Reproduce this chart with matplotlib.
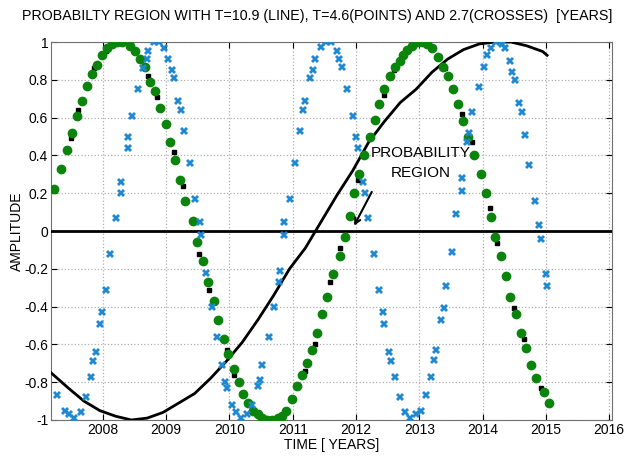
import numpy as np
import matplotlib
matplotlib.use('Agg')
import matplotlib.pyplot as plt

# T = 10.9 yr line
line_t = [2007.18, 2007.45, 2007.7, 2007.95, 2008.2, 2008.45, 2008.7, 2008.95, 2009.2, 2009.45,
          2009.7, 2009.95, 2010.2, 2010.45, 2010.7, 2010.95, 2011.2, 2011.45, 2011.7, 2011.95,
          2012.2, 2012.45, 2012.7, 2012.95, 2013.2, 2013.45, 2013.7, 2013.95, 2014.2, 2014.45,
          2014.7, 2014.95, 2015.02]
line_y = [-0.75, -0.83, -0.90, -0.95, -0.98, -1.0, -0.99, -0.96, -0.91, -0.86,
          -0.78, -0.69, -0.59, -0.47, -0.34, -0.20, -0.09, 0.05, 0.19, 0.32,
          0.47, 0.58, 0.68, 0.75, 0.84, 0.91, 0.96, 0.99, 1.0, 1.0,
          0.98, 0.95, 0.93]

# T = 4.6 yr points (green)
pts_t = [2007.23, 2007.33, 2007.43, 2007.51, 2007.59, 2007.67, 2007.75, 2007.83, 2007.90, 2007.98,
         2008.06, 2008.14, 2008.22, 2008.30, 2008.43, 2008.51, 2008.59, 2008.67, 2008.75, 2008.83,
         2008.91, 2008.99, 2009.06, 2009.14, 2009.22, 2009.30, 2009.42, 2009.49, 2009.58, 2009.66,
         2009.75, 2009.82, 2009.91, 2009.98, 2010.07, 2010.15, 2010.22, 2010.30, 2010.38, 2010.45,
         2010.52, 2010.60, 2010.68, 2010.76, 2010.83, 2010.90, 2010.99, 2011.07, 2011.15, 2011.23,
         2011.31, 2011.38, 2011.46, 2011.54, 2011.63, 2011.74, 2011.82, 2011.90, 2011.97, 2012.05,
         2012.13, 2012.22, 2012.30, 2012.37, 2012.45, 2012.53, 2012.61, 2012.69, 2012.75, 2012.81,
         2012.89, 2012.97, 2013.05, 2013.13, 2013.20, 2013.30, 2013.38, 2013.45, 2013.54, 2013.61,
         2013.69, 2013.77, 2013.86, 2013.97, 2014.05, 2014.14, 2014.20, 2014.29, 2014.37, 2014.44,
         2014.53, 2014.61, 2014.69, 2014.77, 2014.85, 2014.97, 2015.05]
pts_y = [0.22, 0.33, 0.43, 0.52, 0.61, 0.69, 0.77, 0.83, 0.88, 0.93,
         0.97, 0.99, 1.0, 1.0, 0.98, 0.95, 0.91, 0.87, 0.79, 0.74,
         0.65, 0.565, 0.47, 0.375, 0.27, 0.16, 0.055, -0.057, -0.16, -0.27,
         -0.37, -0.47, -0.57, -0.65, -0.73, -0.80, -0.86, -0.91, -0.95, -0.97,
         -0.99, -1.0, -1.0, -0.99, -0.98, -0.95, -0.89, -0.82, -0.76, -0.70,
         -0.63, -0.54, -0.44, -0.35, -0.23, -0.13, -0.03, 0.08, 0.20, 0.30,
         0.40, 0.50, 0.59, 0.67, 0.75, 0.82, 0.87, 0.90, 0.93, 0.96,
         0.98, 1.0, 1.0, 0.99, 0.97, 0.92, 0.87, 0.82, 0.75, 0.67,
         0.58, 0.50, 0.40, 0.30, 0.20, 0.076, -0.03, -0.13, -0.24, -0.35,
         -0.44, -0.54, -0.62, -0.71, -0.78, -0.85, -0.91]

# black squares peeking out under the green points
obs_t = [2007.49, 2007.61, 2007.86, 2008.05, 2008.72, 2008.85, 2009.13, 2009.26, 2009.52, 2009.68,
         2009.96, 2010.07, 2011.19, 2011.35, 2011.59, 2011.75, 2012.03, 2012.44, 2012.60, 2013.40,
         2013.68, 2013.84, 2014.12, 2014.23, 2014.50, 2014.66, 2014.92]
obs_y = [0.49, 0.64, 0.86, 0.95, 0.82, 0.71, 0.42, 0.24, -0.12, -0.31,
         -0.63, -0.76, -0.74, -0.60, -0.27, -0.09, 0.27, 0.72, 0.85, 0.86,
         0.62, 0.47, 0.12, -0.065, -0.41, -0.57, -0.83]

# T = 2.7 yr crosses (blue)
crs_t = [2007.27, 2007.40, 2007.47, 2007.54, 2007.65, 2007.73, 2007.81, 2007.85, 2007.89, 2007.96,
         2007.99, 2008.05, 2008.12, 2008.21, 2008.28, 2008.29, 2008.39, 2008.40, 2008.46, 2008.55,
         2008.64, 2008.69, 2008.72, 2008.80, 2008.88, 2008.96, 2009.03, 2009.10, 2009.13, 2009.19,
         2009.24, 2009.28, 2009.38, 2009.46, 2009.53, 2009.55, 2009.63, 2009.72, 2009.80, 2009.88,
         2009.93, 2009.96, 2010.04, 2010.10, 2010.19, 2010.27, 2010.36, 2010.45, 2010.48, 2010.51,
         2010.63, 2010.71, 2010.78, 2010.80, 2010.86, 2010.87, 2010.96, 2011.04, 2011.12, 2011.16,
         2011.20, 2011.28, 2011.32, 2011.36, 2011.44, 2011.52, 2011.60, 2011.70, 2011.73, 2011.78,
         2011.86, 2011.95, 2012.00, 2012.03, 2012.11, 2012.14, 2012.19, 2012.28, 2012.36, 2012.42,
         2012.44, 2012.52, 2012.55, 2012.62, 2012.69, 2012.78, 2012.86, 2012.95, 2013.03, 2013.11,
         2013.19, 2013.23, 2013.27, 2013.35, 2013.39, 2013.43, 2013.51, 2013.58, 2013.67, 2013.68,
         2013.75, 2013.78, 2013.84, 2013.95, 2014.02, 2014.07, 2014.13, 2014.21, 2014.30, 2014.35,
         2014.43, 2014.47, 2014.51, 2014.58, 2014.63, 2014.67, 2014.74, 2014.83, 2014.90, 2014.93,
         2015.00, 2015.02]
crs_y = [-0.87, -0.95, -0.97, -0.99, -0.96, -0.88, -0.77, -0.69, -0.64, -0.49,
         -0.43, -0.31, -0.12, 0.07, 0.20, 0.26, 0.44, 0.50, 0.61, 0.75,
         0.86, 0.91, 0.95, 1.0, 1.0, 0.97, 0.91, 0.85, 0.81, 0.69,
         0.64, 0.53, 0.36, 0.17, 0.05, -0.02, -0.22, -0.40, -0.56, -0.71,
         -0.80, -0.83, -0.92, -0.96, -0.99, -0.97, -0.92, -0.82, -0.79, -0.71,
         -0.56, -0.40, -0.27, -0.21, 0.05, -0.02, 0.17, 0.36, 0.53, 0.64,
         0.69, 0.81, 0.85, 0.91, 0.975, 1.0, 1.0, 0.95, 0.91, 0.87,
         0.75, 0.61, 0.50, 0.44, 0.26, 0.20, 0.07, -0.12, -0.31, -0.43,
         -0.49, -0.64, -0.69, -0.77, -0.88, -0.96, -0.99, -0.97, -0.95, -0.87,
         -0.77, -0.68, -0.63, -0.47, -0.41, -0.29, -0.11, 0.09, 0.21, 0.28,
         0.47, 0.52, 0.63, 0.76, 0.87, 0.93, 0.97, 1.0, 0.99, 0.97,
         0.90, 0.84, 0.80, 0.68, 0.63, 0.51, 0.35, 0.16, 0.03, -0.04,
         -0.23, -0.29]

years = list(range(2008, 2017))
yticks = [-1, -0.8, -0.6, -0.4, -0.2, 0, 0.2, 0.4, 0.6, 0.8, 1]
ytick_labels = ['-1', '-0.8', '-0.6', '-0.4', '-0.2', '0', '0.2', '0.4', '0.6', '0.8', '1']

plt.rcParams['font.family'] = ['Liberation Sans', 'DejaVu Sans']

fig = plt.figure(figsize=(6.26, 4.57), dpi=100)
ax = fig.add_axes([0.0815, 0.081, 0.8965, 0.827])

ax.axhline(0, color='black', lw=2, zorder=3)
ax.plot(line_t, line_y, color='black', lw=2, zorder=3)
ax.plot(obs_t, obs_y, 's', color='black', ms=3.5, zorder=4)
ax.plot(pts_t, pts_y, 'o', color='#0a840a', ms=6, mec='#0a840a', zorder=5)
ax.plot(crs_t, crs_y, 'X', color='#1e88d0', ms=6, mew=0, zorder=6)

ax.annotate('', xy=(2011.95, 0.015), xytext=(2012.27, 0.22),
            arrowprops=dict(arrowstyle='->', color='black', lw=1.5), zorder=7)
ax.text(2013.02, 0.36, 'PROBABILITY\nREGION', ha='center', va='center',
        fontsize=11, linespacing=1.6, zorder=8)

ax.set_xlim(2007.18, 2016.05)
ax.set_ylim(-1, 1)
ax.set_xticks(years)
ax.set_xticklabels([str(y) for y in years], fontsize=10)
ax.set_yticks(yticks)
ax.set_yticklabels(ytick_labels, fontsize=10)
ax.tick_params(direction='in', top=True, right=True, length=4, pad=2)
ax.grid(True, color='#b0b0b0', linestyle=':', lw=0.9)
for s in ax.spines.values():
    s.set_color('#707070')

ax.set_xlabel('TIME [ YEARS]', fontsize=10, labelpad=1)
ax.set_ylabel('AMPLITUDE', fontsize=10, labelpad=0)
fig.text(0.506, 0.965, 'PROBABILTY REGION WITH T=10.9 (LINE), T=4.6(POINTS) AND 2.7(CROSSES)  [YEARS]',
         fontsize=10.3, ha='center', va='center')

fig.savefig('out.png', dpi=100)
